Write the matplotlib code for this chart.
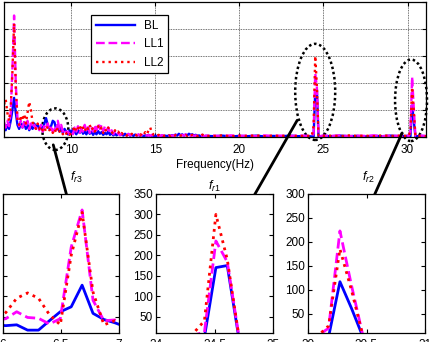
import numpy as np
import matplotlib
matplotlib.use('Agg')
import matplotlib.pyplot as plt
from matplotlib.patches import Ellipse
from matplotlib.ticker import FormatStrFormatter

plt.rcParams['font.family'] = ['Liberation Sans', 'DejaVu Sans']
plt.rcParams['mathtext.fontset'] = 'custom'
plt.rcParams['mathtext.it'] = 'Liberation Sans:italic'
plt.rcParams['mathtext.rm'] = 'Liberation Sans'
plt.rcParams['font.size'] = 8.5

# spectrum bins (Hz): 0.1 Hz steps from 6 to 18 Hz, then the quieter part
freq_low = np.round(np.arange(6.0, 18.05, 0.1), 2)
freq_high = [18.5, 19.0, 19.5, 20.0, 20.5, 21.0, 21.5, 22.0, 22.5, 23.0, 23.5, 24.0,
             24.3, 24.414, 24.512, 24.609, 24.707, 24.8,
             25.0, 25.5, 26.0, 26.5, 27.0, 27.5, 28.0, 28.5, 29.0, 29.5, 30.0,
             30.08, 30.176, 30.273, 30.371, 30.469, 30.57,
             30.8, 31.1]

bl_low = [40, 25, 45, 30, 60, 100, 145, 90, 45, 30,
          50, 35, 55, 30, 45, 25, 40, 30, 50, 35,
          45, 30, 40, 25, 50, 70, 45, 30, 40, 60,
          55, 30, 45, 20, 35, 15, 30, 20, 10, 25,
          15, 30, 20, 10, 25, 15, 30, 12, 20, 10,
          25, 12, 20, 8, 18, 10, 22, 12, 18, 8,
          15, 10, 20, 8, 15, 6, 12, 6, 14, 8,
          10, 5, 12, 6, 10, 5, 8, 4, 9, 5,
          8, 4, 7, 3, 6, 4, 8, 3, 6, 4,
          5, 3, 6, 4, 5, 3, 5, 3, 6, 4,
          7, 4, 9, 5, 12, 6, 10, 4, 9, 6,
          12, 8, 10, 5, 8, 4, 6, 3, 5, 3,
          4]
bl_high = [3, 5, 2, 4, 3, 5, 2, 4, 3, 5, 3, 4,
           2, 0, 170, 175, 0, 3,
           4, 3, 5, 3, 4, 2, 4, 3, 5, 3, 4,
           3, 2, 117, 62, 2, 3,
           4, 3]

ll1_low = [55, 35, 60, 40, 90, 250, 450, 200, 70, 40,
           60, 35, 55, 40, 60, 30, 50, 35, 45, 30,
           40, 25, 45, 20, 40, 30, 50, 25, 35, 20,
           40, 25, 60, 30, 45, 20, 30, 15, 20, 10,
           20, 10, 35, 20, 40, 15, 30, 20, 45, 25,
           40, 15, 35, 20, 45, 25, 50, 30, 45, 20,
           40, 25, 35, 15, 25, 10, 20, 8, 15, 6,
           12, 6, 10, 5, 12, 6, 10, 4, 8, 5,
           10, 5, 8, 4, 9, 5, 7, 4, 8, 5,
           7, 4, 6, 3, 7, 4, 6, 3, 5, 3,
           6, 4, 8, 5, 10, 5, 8, 4, 10, 5,
           8, 4, 7, 3, 6, 3, 5, 3, 6, 3,
           5]
ll1_high = [5, 3, 6, 4, 5, 3, 6, 4, 5, 3, 6, 4,
            3, 12, 235, 184, 5, 3,
            5, 4, 6, 3, 5, 4, 6, 3, 5, 4, 5,
            4, 20, 223, 110, 5, 4,
            5, 4]

ll2_low = [120, 140, 90, 60, 110, 240, 420, 180, 60, 45,
           80, 60, 85, 50, 90, 130, 100, 55, 40, 30,
           50, 30, 40, 25, 35, 20, 40, 25, 30, 15,
           30, 15, 35, 20, 25, 10, 20, 12, 18, 8,
           15, 25, 40, 20, 30, 45, 25, 35, 20, 40,
           30, 45, 25, 35, 20, 30, 40, 25, 35, 15,
           30, 20, 35, 25, 20, 10, 25, 15, 20, 8,
           15, 8, 12, 5, 10, 6, 12, 5, 10, 6,
           12, 6, 14, 8, 18, 10, 25, 35, 15, 8,
           10, 5, 8, 4, 7, 4, 6, 3, 6, 4,
           8, 4, 7, 4, 8, 5, 6, 4, 7, 4,
           9, 5, 8, 4, 6, 3, 8, 4, 9, 5,
           4]
ll2_high = [4, 6, 3, 5, 4, 6, 3, 5, 4, 6, 3, 5,
            3, 40, 300, 190, 5, 4,
            4, 5, 3, 6, 4, 5, 3, 6, 4, 5, 4,
            3, 25, 185, 100, 4, 3,
            4, 3]

freq = np.concatenate([freq_low, freq_high])
bl = np.array(bl_low + bl_high)
ll1 = np.array(ll1_low + ll1_high)
ll2 = np.array(ll2_low + ll2_high)

# zoomed view around f_r3 (as drawn in the inset)
zoom_freq = [5.93, 6.024, 6.118, 6.212, 6.306, 6.40, 6.494, 6.588, 6.682, 6.776, 6.87, 6.964, 7.058]
zoom_bl = [30, 28, 30, 17, 17, 40, 62, 74, 127, 58, 43, 35, 25]
zoom_ll1 = [40, 45, 62, 48, 46, 32, 45, 220, 311, 90, 40, 42, 30]
zoom_ll2 = [40, 60, 95, 108, 95, 55, 30, 200, 305, 110, 30, 40, 30]

labels = ['BL', 'LL1', 'LL2']
colors = ['#0000ff', '#ff00ff', '#ff0000']
styles = ['-', '--', ':']

W, H = 432, 342
fig = plt.figure(figsize=(W / 100, H / 100), dpi=100)


def box(x0, y0, x1, y1):
    # pixel box (top-left origin) -> figure fraction rect
    return [x0 / W, 1 - y1 / H, (x1 - x0) / W, (y1 - y0) / H]


def style_axes(ax):
    ax.tick_params(direction='in', length=3, width=0.8, top=True, right=True, pad=4)
    for s in ax.spines.values():
        s.set_linewidth(0.9)


ax = fig.add_axes(box(4, 2, 426, 137))
for y, lab, c, ls in zip([bl, ll1, ll2], labels, colors, styles):
    ax.plot(freq, y, ls, color=c, lw=1.7, label=lab)
ax.set_xlim(6, 31.1)
ax.set_ylim(0, 500)
ax.set_xticks([10, 15, 20, 25, 30])
ax.set_yticks([0, 100, 200, 300, 400, 500])
ax.grid(True, color='#444444', ls=(0, (1, 1)), lw=0.6)
style_axes(ax)
ax.tick_params(labelleft=False, pad=5)
ax.set_xlabel('Frequency(Hz)', labelpad=2)
leg = ax.legend(loc='upper left', bbox_to_anchor=(0.206, 0.904), borderaxespad=0,
                fancybox=False, edgecolor='k', framealpha=1, handlelength=3.3,
                labelspacing=0.55)
leg.get_frame().set_linewidth(0.9)

# dotted rings around the three resonances
rings = [(9.05, 29, 1.55, 154), (24.51, 167, 2.38, 356), (30.21, 136, 1.9, 302)]
for cx, cy, w, h in rings:
    ax.add_patch(Ellipse((cx, cy), w, h, fill=False, ec='k', lw=1.8,
                         ls=(0, (1, 1.1)), clip_on=False))

ax1 = fig.add_axes(box(3, 194, 119, 333))
ax2 = fig.add_axes(box(156, 194, 273, 333))
ax3 = fig.add_axes(box(308, 194, 425, 333))

for y, c, ls in zip([zoom_bl, zoom_ll1, zoom_ll2], colors, styles):
    ax1.plot(zoom_freq, y, ls, color=c, lw=2)
for a in (ax2, ax3):
    for y, c, ls in zip([bl, ll1, ll2], colors, styles):
        a.plot(freq, y, ls, color=c, lw=2)

ax1.set_xlim(6, 7)
ax1.set_ylim(10, 350)
ax1.set_xticks([6, 6.5, 7])
ax1.set_yticks([50, 100, 150, 200, 250, 300, 350])
ax2.set_xlim(24, 25)
ax2.set_ylim(10, 350)
ax2.set_xticks([24, 24.5, 25])
ax2.set_yticks([50, 100, 150, 200, 250, 300, 350])
ax3.set_xlim(30, 31)
ax3.set_ylim(10, 300)
ax3.set_xticks([30, 30.5, 31])
ax3.set_yticks([50, 100, 150, 200, 250, 300])
for a in (ax1, ax2, ax3):
    style_axes(a)
    a.xaxis.set_major_formatter(FormatStrFormatter('%g'))
    a.tick_params(axis='y', pad=2)
ax1.tick_params(labelleft=False)

ax2.set_title('$f_{r1}$', fontsize=9, pad=3)
fig.text(76 / W, 1 - 177 / H, '$f_{r3}$', fontsize=9, ha='center', va='center')
fig.text(368 / W, 1 - 177 / H, '$f_{r2}$', fontsize=9, ha='center', va='center')

# arrows from the rings down to the zoomed panels
arrow = dict(arrowstyle='-|>,head_length=1.1,head_width=0.45', lw=2, color='k',
             shrinkA=0, shrinkB=0)
ax.annotate('', xy=(0.61, 0.80), xycoords=ax1.transAxes,
            xytext=(8.93, -29), textcoords='data', arrowprops=arrow, annotation_clip=False)
ax.annotate('', xy=(0.744, 0.85), xycoords=ax2.transAxes,
            xytext=(23.44, 62), textcoords='data', arrowprops=arrow, annotation_clip=False)
ax.annotate('', xy=(0.46, 0.79), xycoords=ax3.transAxes,
            xytext=(29.68, 15), textcoords='data', arrowprops=arrow, annotation_clip=False)

fig.savefig('out.png', dpi=100)
